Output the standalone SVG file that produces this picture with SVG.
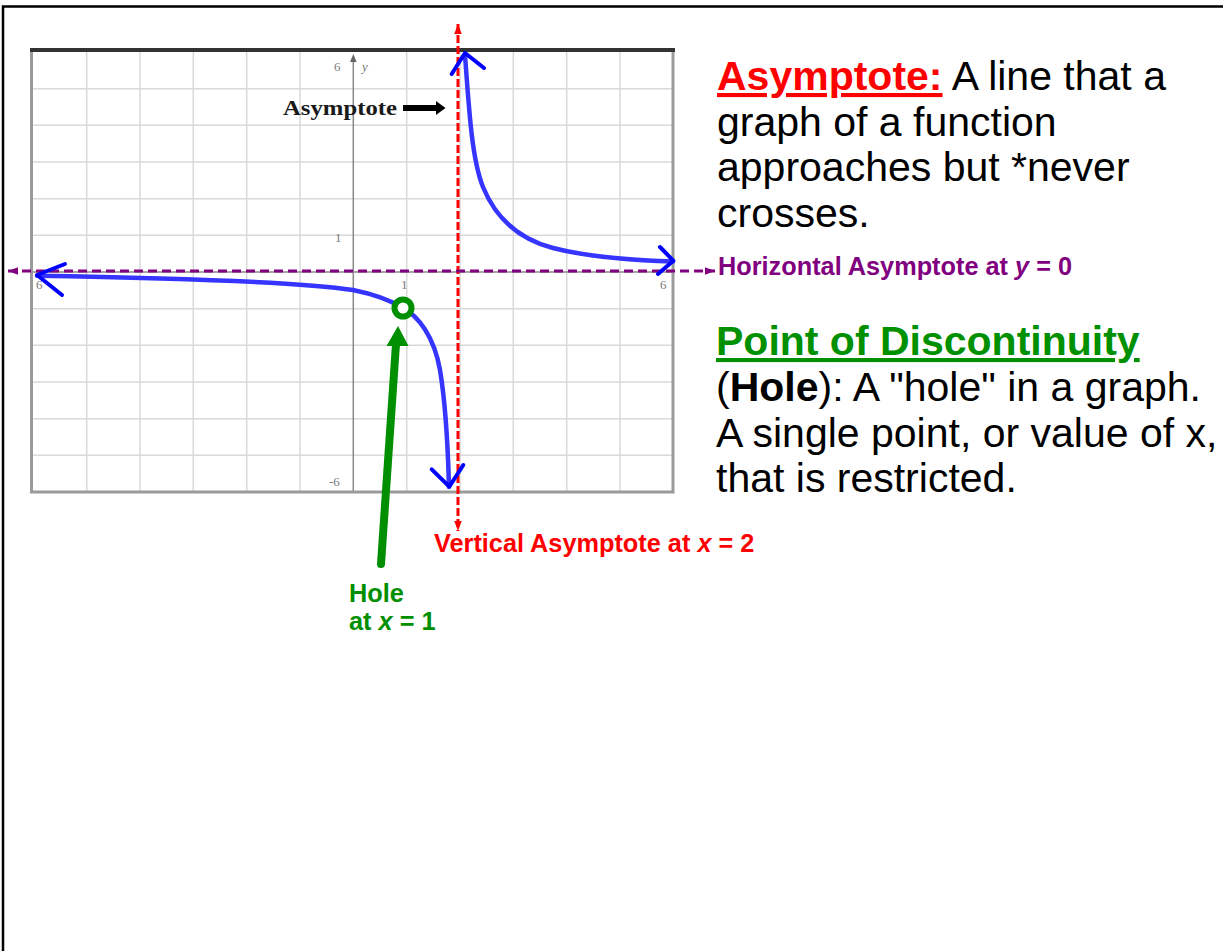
<svg xmlns="http://www.w3.org/2000/svg" width="1223" height="951" viewBox="0 0 1223 951">
<style>
.grid{stroke:#d9d9d9;stroke-width:1.5;fill:none}
.tick{font-family:"Liberation Serif",serif;font-size:13px;fill:#7a7a7a}
.main{font-family:"Liberation Sans",Arial,sans-serif;font-size:41px}
.lbl{font-family:"Liberation Sans",Arial,sans-serif;font-size:25.3px;font-weight:bold}
.curve{fill:none;stroke:#3535ff;stroke-width:4.5;stroke-linejoin:round;stroke-linecap:round}
.head{fill:none;stroke:#0000ff;stroke-width:4;stroke-linecap:round;stroke-linejoin:round}
</style>
<defs>
<marker id="redArr" markerUnits="userSpaceOnUse" markerWidth="10" markerHeight="10" refX="8" refY="4" orient="auto-start-reverse" viewBox="0 0 8 8">
<path d="M0,1 L8,4 L0,7 Z" fill="#ff0000"/>
</marker>
<marker id="purArr" markerUnits="userSpaceOnUse" markerWidth="10" markerHeight="10" refX="8" refY="4" orient="auto-start-reverse" viewBox="0 0 8 8">
<path d="M0,1 L8,4 L0,7 Z" fill="#800080"/>
</marker>
</defs>
<rect width="1223" height="951" fill="#fff"/>
<path d="M3,951 V6.5 H1223" fill="none" stroke="#000" stroke-width="2.5"/>

<g id="graph">
<rect x="31.5" y="50" width="641.5" height="442" fill="#fff"/>
<g class="grid">
<path d="M86.7,52V492M140,52V492M193.3,52V492M246.7,52V492M300,52V492M406.7,52V492M460,52V492M513.3,52V492M566.7,52V492M620,52V492"/>
<path d="M33,88.7H673M33,125.3H673M33,162H673M33,198.7H673M33,235.3H673M33,308.7H673M33,345.3H673M33,382H673M33,418.7H673M33,455.3H673"/>
</g>
<line x1="33" y1="272" x2="673" y2="272" stroke="#888" stroke-width="1.5"/>
<line x1="353.3" y1="60" x2="353.3" y2="492" stroke="#888" stroke-width="1.5"/>
<path d="M350,62 L353.3,54 L356.6,62 Z" fill="#666"/>
<rect x="31.5" y="50" width="641.5" height="442" fill="none" stroke="#9a9a9a" stroke-width="3"/>
<line x1="30" y1="50" x2="675" y2="50" stroke="#333" stroke-width="4"/>
<text class="tick" x="334" y="71">6</text>
<text class="tick" x="362" y="71" font-style="italic">y</text>
<text class="tick" x="335" y="242">1</text>
<text class="tick" x="401" y="289">1</text>
<text class="tick" x="329" y="486">-6</text>
<text class="tick" x="660" y="289">6</text>
<text class="tick" x="36" y="289">6</text>
<text x="283" y="115" font-family="'Liberation Serif',serif" font-weight="bold" font-size="22" fill="#1a1a1a" textLength="114" lengthAdjust="spacingAndGlyphs">Asymptote</text>
<rect x="403" y="105" width="34" height="6" fill="#000"/>
<path d="M436,101 L445.5,108 L436,115 Z" fill="#000"/>
</g>

<g id="connectors">
<line x1="458" y1="24" x2="458" y2="531" stroke="#ff0000" stroke-width="3" stroke-dasharray="8,3" marker-start="url(#redArr)" marker-end="url(#redArr)"/>
<line x1="8" y1="271" x2="715" y2="271" stroke="#800080" stroke-width="3" stroke-dasharray="9,5" marker-start="url(#purArr)" marker-end="url(#purArr)"/>
</g>

<g id="function-curve">
<path class="curve" d="M37,275.7 C180,278 300,282 353,290 C373,294 390,300 403,308 C418,316 434,336 440,370 C445,400 448,450 449,487"/>
<path class="curve" d="M465,55 C469,110 472,160 483,187 C494,214 515,238 553,248 C590,257.7 640,260.5 673,261.5"/>
<path class="head" d="M65,264 L37,275 L62,295"/>
<path class="head" d="M451.7,74 L465,53 L484,68"/>
<path class="head" d="M660,247 L673.3,260.7 L658,274"/>
<path class="head" d="M431.7,469.3 L449.3,486.7 L463.3,465"/>
</g>

<g id="hole">
<line x1="381" y1="564" x2="396" y2="344" stroke="#008f00" stroke-width="8" stroke-linecap="round"/>
<path d="M398,326 L386.5,346 L408.5,346 Z" fill="#008f00"/>
<circle cx="403" cy="308" r="8.5" fill="#fff" stroke="#008f00" stroke-width="6"/>
</g>

<g id="asymptote-definition">
<text class="main" x="717" y="90" fill="#000"><tspan font-weight="bold" fill="#ff0000" text-decoration="underline">Asymptote:</tspan> A line that a</text>
<text class="main" x="717" y="135.5" fill="#000">graph of a function</text>
<text class="main" x="717" y="181" fill="#000">approaches but *never</text>
<text class="main" x="717" y="226.5" fill="#000">crosses.</text>
</g>

<g id="discontinuity-definition">
<text class="main" x="716" y="355" font-weight="bold" fill="#009000" text-decoration="underline">Point of Discontinuity</text>
<text class="main" x="716" y="401" fill="#000">(<tspan font-weight="bold">Hole</tspan>): A "hole" in a graph.</text>
<text class="main" x="716" y="446.5" fill="#000">A single point, or value of x,</text>
<text class="main" x="716" y="492" fill="#000">that is restricted.</text>
</g>

<g id="horizontal-label">
<text class="lbl" x="718" y="275" fill="#800080">Horizontal Asymptote at <tspan font-style="italic">y</tspan> = 0</text>
</g>
<g id="vertical-label">
<text class="lbl" x="434" y="552" fill="#ff0000">Vertical Asymptote at <tspan font-style="italic">x</tspan> = 2</text>
</g>
<g id="hole-label">
<text class="lbl" x="349" y="602" fill="#008f00" font-size="24">Hole</text>
<text class="lbl" x="349" y="630" fill="#008f00" font-size="24">at <tspan font-style="italic">x</tspan> = 1</text>
</g>
</svg>
